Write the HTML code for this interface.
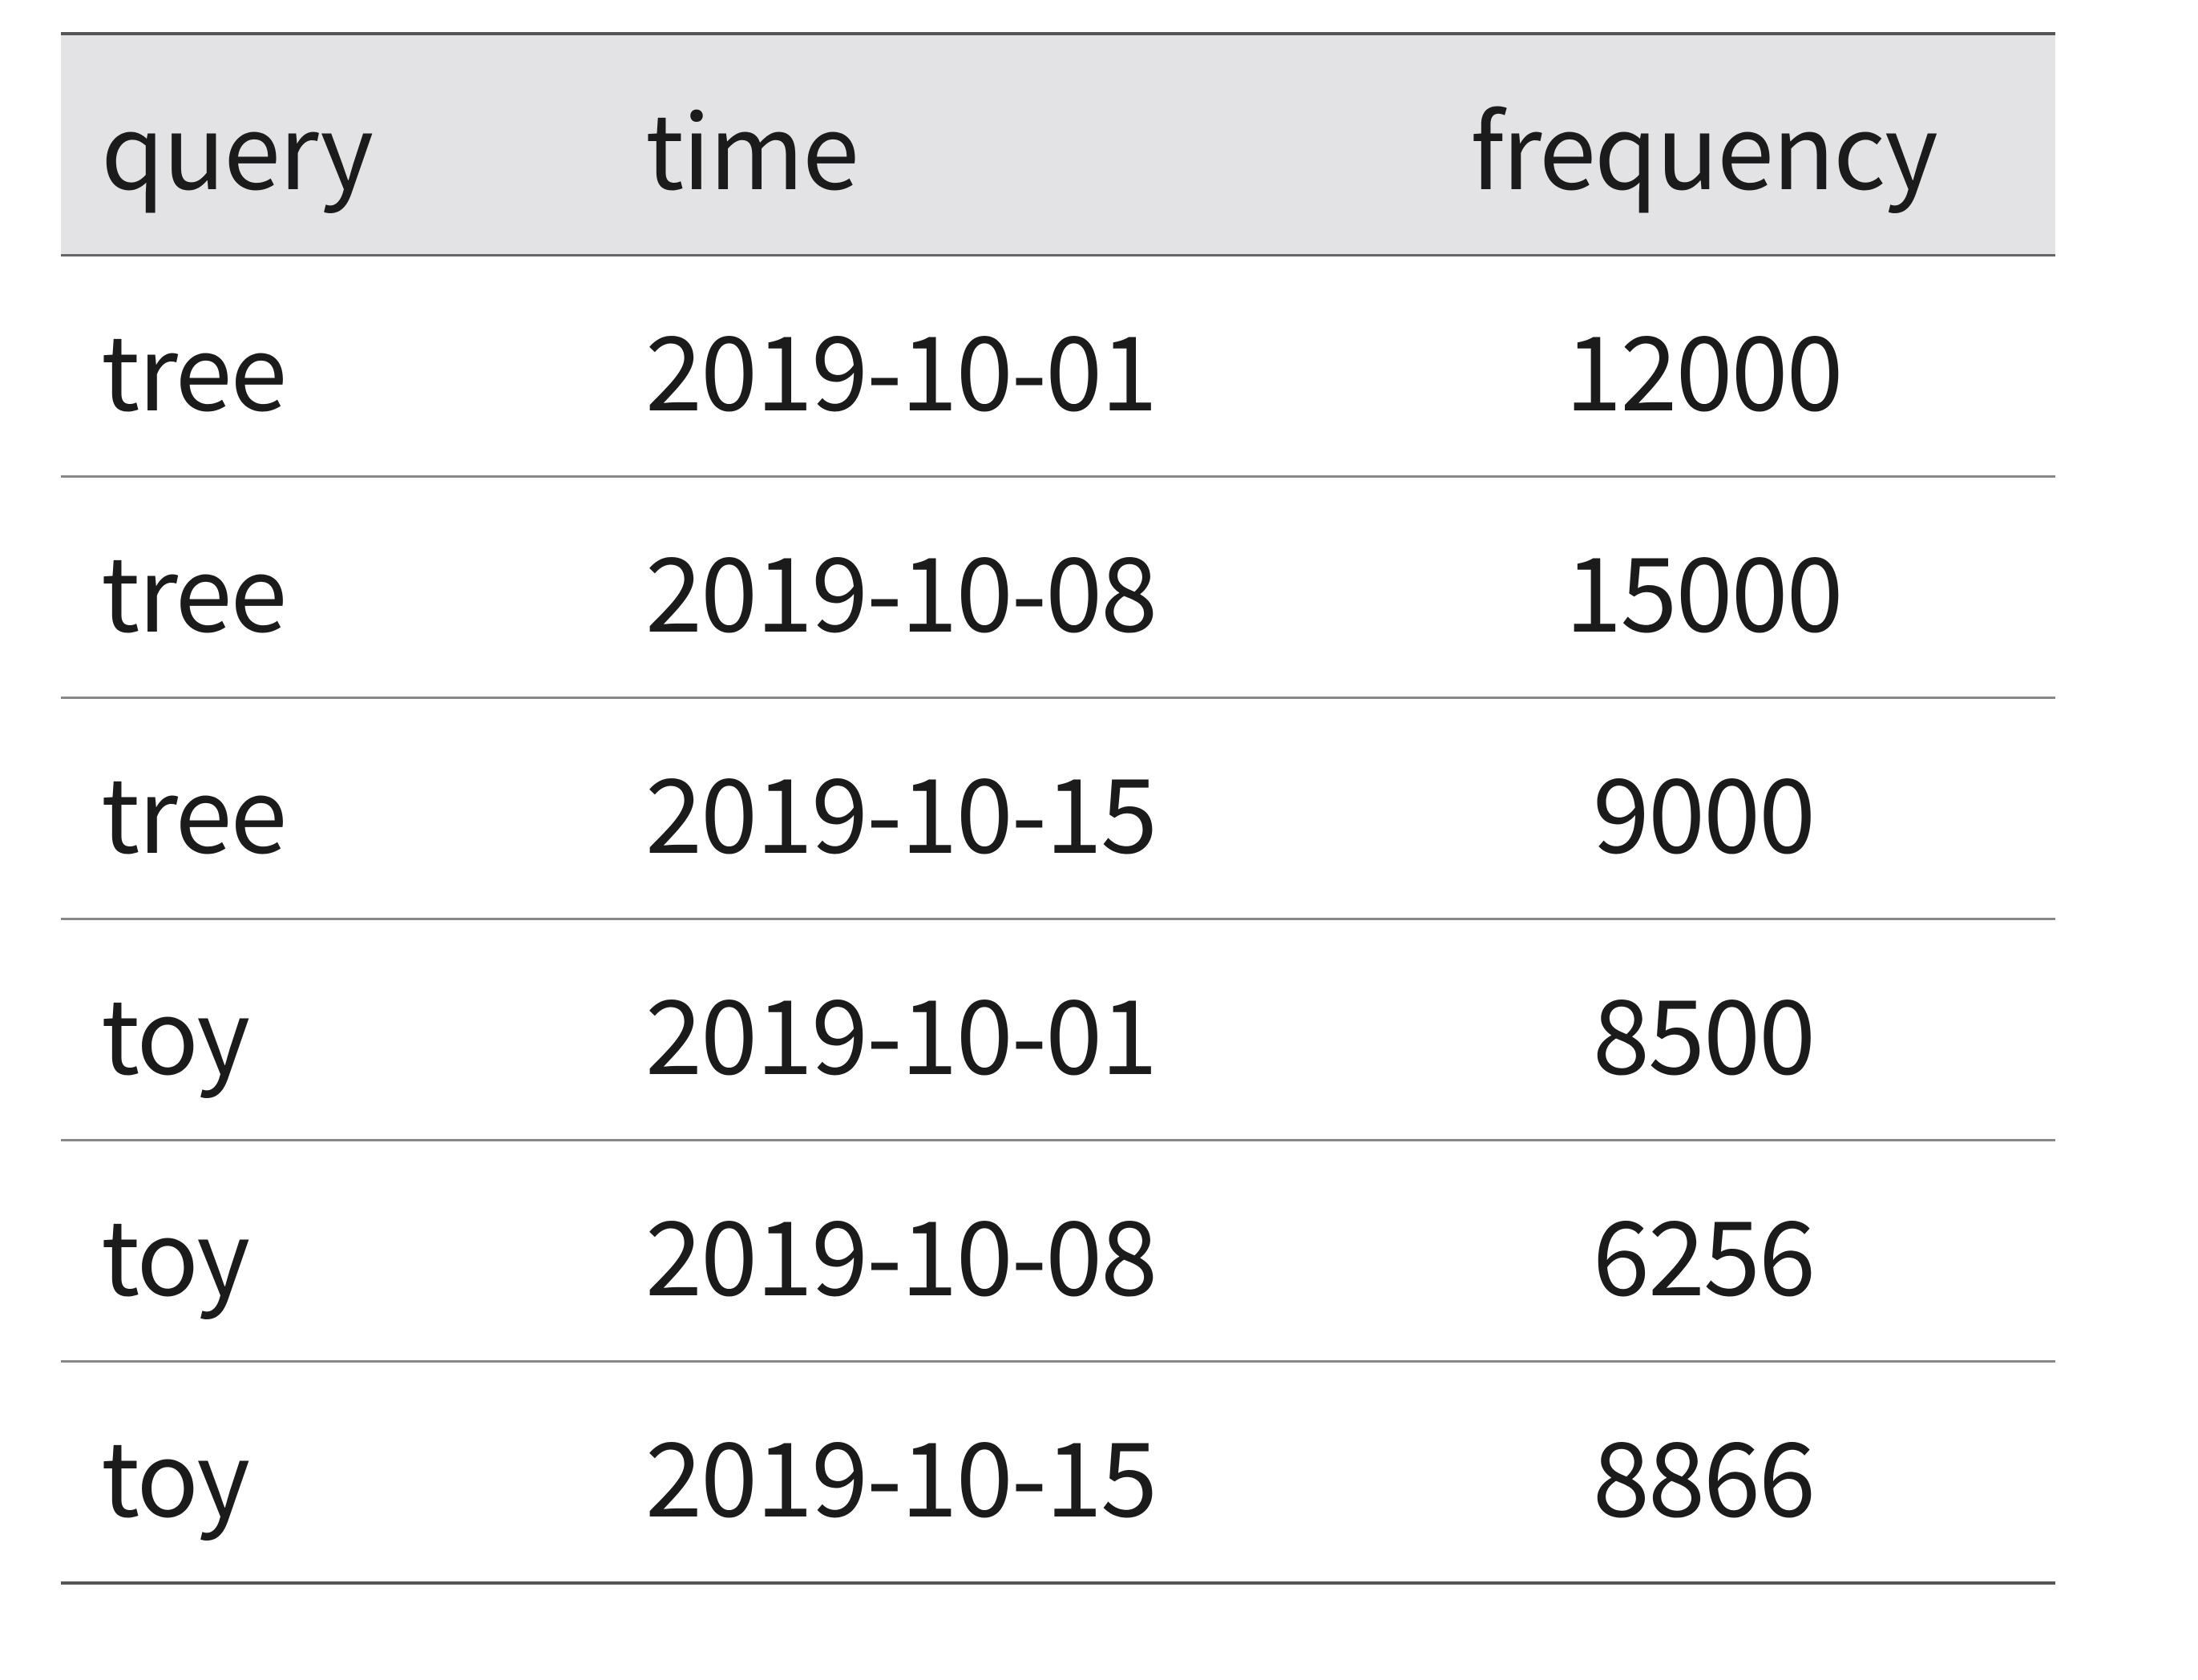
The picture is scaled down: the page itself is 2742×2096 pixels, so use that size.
<!DOCTYPE html>
<html><head><meta charset="utf-8"><style>
html,body{margin:0;padding:0;background:#fff;width:2742px;height:2096px;overflow:hidden}
#t{position:absolute;left:76px;top:40px;width:2488px;table-layout:fixed;border-collapse:collapse;font-family:"Noto Sans CJK SC","Liberation Sans",sans-serif;font-size:128px;color:#1b1b1b;letter-spacing:-2px}
#t th,#t td{height:273px;padding:0;vertical-align:middle;font-weight:400;text-align:left;line-height:1;overflow:visible;white-space:nowrap}
#t thead tr{background:#e3e3e5;border-top:4px solid #555;border-bottom:3px solid #666}
#t tbody tr{border-bottom:3px solid #888}
#t tbody tr:last-child{border-bottom:4px solid #555}
.c1{padding-left:50px!important}
.c3{text-align:center!important}
</style></head><body>
<table id="t">
<colgroup><col style="width:729px"><col style="width:881px"><col style="width:878px"></colgroup>
<thead><tr>
<th class="c1">query</th>
<th class="c2">time</th>
<th class="c3">frequency</th></tr></thead>
<tbody>
<tr><td class="c1">tree</td><td class="c2">2019-10-01</td><td class="c3">12000</td></tr>
<tr><td class="c1">tree</td><td class="c2">2019-10-08</td><td class="c3">15000</td></tr>
<tr><td class="c1">tree</td><td class="c2">2019-10-15</td><td class="c3">9000</td></tr>
<tr><td class="c1">toy</td><td class="c2">2019-10-01</td><td class="c3">8500</td></tr>
<tr><td class="c1">toy</td><td class="c2">2019-10-08</td><td class="c3">6256</td></tr>
<tr><td class="c1">toy</td><td class="c2">2019-10-15</td><td class="c3">8866</td></tr>
</tbody></table>
</body></html>
